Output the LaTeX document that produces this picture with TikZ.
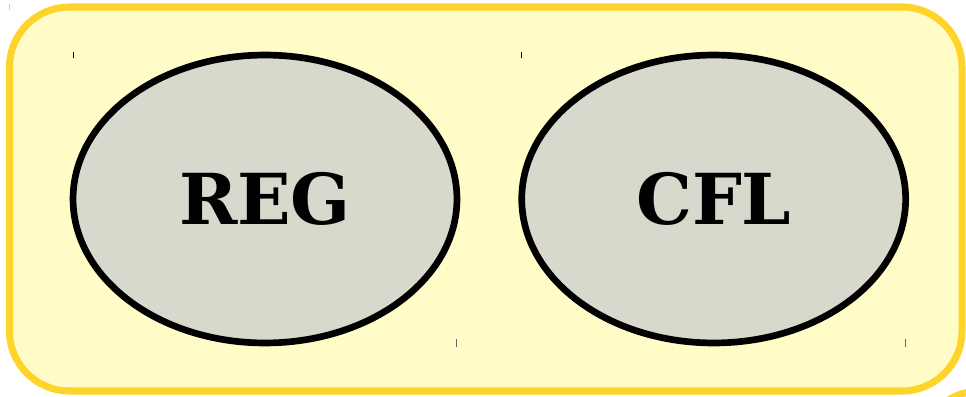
\documentclass[tikz,border=0pt]{standalone}
\usepackage{fontspec}
\setmainfont{DejaVu Serif}
\usetikzlibrary{shapes.geometric}

\definecolor{setfill}{HTML}{FFFCC8}
\definecolor{setline}{HTML}{FFD42A}
\definecolor{langfill}{HTML}{D8D8CC}

\begin{document}
\begin{tikzpicture}[x=0.02cm,y=-0.02cm,
	setbox/.style={draw=setline,fill=setfill,line width=4pt,rounded corners=1.2cm},
	lang/.style={ellipse,draw=black,line width=3.8pt,fill=langfill,outer sep=0pt,
		minimum width=7.68cm,minimum height=5.76cm,inner sep=0pt,
		font=\fontsize{40}{40}\selectfont\bfseries},
	tick/.style={line width=0.6pt}]
	\useasboundingbox (0,0) rectangle (966,396);
	\clip (0,0) rectangle (966,396);
	\draw[setbox] (920,391) rectangle (1600,900);
	\draw[setbox] (9.5,7) rectangle (962,391);
	\draw[tick,setline] (9.5,4) -- (9.5,10);
	\node[lang] (reg) at (265,199) {REG};
	\node[lang] (cfl) at (713.7,199) {CFL};
	\foreach \n in {reg,cfl} {
		\draw[tick] (\n.west |- \n.north) ++(0,-3) -- ++(0,6);
		\draw[tick,black!60] (\n.east |- \n.south) ++(0,-4) -- ++(0,8);
	}
\end{tikzpicture}
\end{document}
